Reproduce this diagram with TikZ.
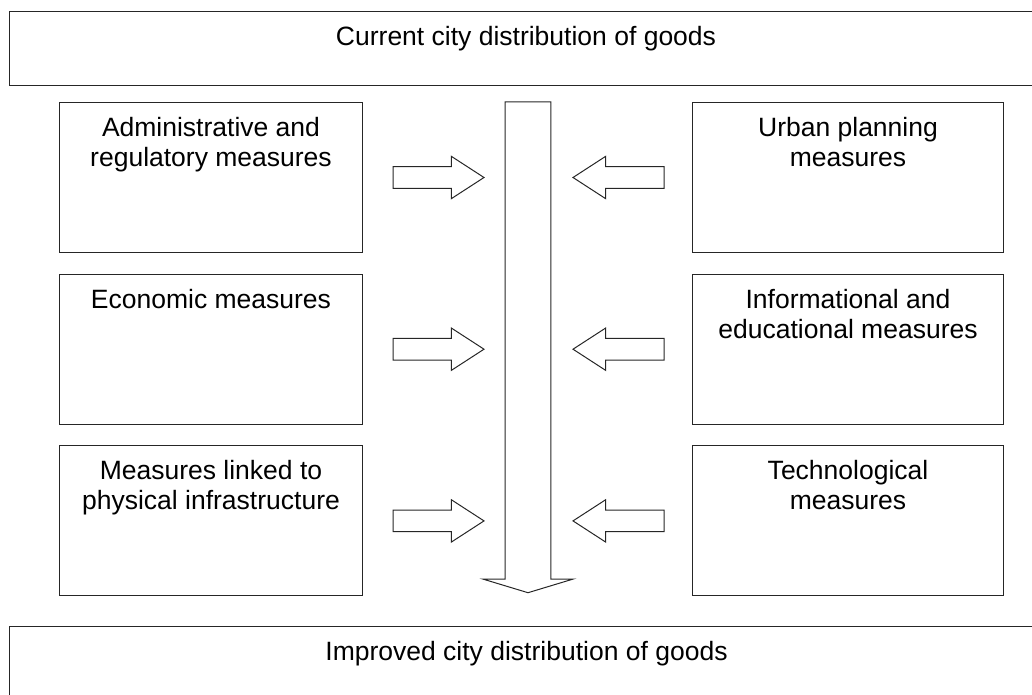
\documentclass[tikz,border=0pt]{standalone}
\usepackage{fontspec}
\setmainfont{Liberation Sans}
\usetikzlibrary{positioning}

\begin{document}
\begin{tikzpicture}[x=1pt,y=-1pt,
    blockarrow/.pic={
      \draw[outline] (0,-10.8) -- (58.3,-10.8) -- (58.3,-21.2) -- (91,0)
        -- (58.3,21.2) -- (58.3,10.8) -- (0,10.8) -- cycle;
    }]
        \tikzstyle{every node}+=[inner sep=0pt]
        \tikzstyle{outline}=[draw=black!85,line width=1pt,line join=miter]
        \tikzstyle{band}=[outline,anchor=north west,minimum width=1040pt,minimum height=74pt]
        \tikzstyle{lbox}=[outline,anchor=north west,minimum width=303pt,minimum height=150pt]
        \tikzstyle{rbox}=[lbox,minimum width=311pt]
        \tikzstyle{caption}=[align=center,font=\fontsize{26.5}{30}\selectfont]

        \clip (0,0) rectangle (1032,695);

        % bands at top and bottom
        \node[band] (current) at (8.5,11.5) {};
        \node[caption,anchor=north] (currenttxt) at (526,26.5) {Current city distribution of goods};
        \node[band] (improved) at (9,626) {};
        \node[caption,anchor=north] (improvedtxt) at (526.5,641) {Improved city distribution of goods};

        % measures, left column
        \node[lbox] (adm) at (59,102) {};
        \node[lbox,below=20.7pt of adm] (eco) {};
        \node[lbox,below=20.7pt of eco] (phys) {};
        \node[caption,below=15pt of adm.north] (admtxt) {Administrative and\\regulatory measures};
        \node[caption,below=15pt of eco.north] (ecotxt) {Economic measures};
        \node[caption,below=15pt of phys.north] (phystxt) {Measures linked to\\physical infrastructure};

        % measures, right column
        \node[rbox] (urb) at (692,102) {};
        \node[rbox,below=20.7pt of urb] (info) {};
        \node[rbox,below=20.7pt of info] (tech) {};
        \node[caption,below=15pt of urb.north] (urbtxt) {Urban planning\\measures};
        \node[caption,below=15pt of info.north] (infotxt) {Informational and\\educational measures};
        \node[caption,below=15pt of tech.north] (techtxt) {Technological\\measures};

        % block arrows into the middle
        \pic at ([xshift=30pt]adm.east) {blockarrow};
        \pic at ([xshift=30pt]eco.east) {blockarrow};
        \pic at ([xshift=30pt]phys.east) {blockarrow};
        \pic[xscale=-1] at ([xshift=-28pt]urb.west) {blockarrow};
        \pic[xscale=-1] at ([xshift=-28pt]info.west) {blockarrow};
        \pic[xscale=-1] at ([xshift=-28pt]tech.west) {blockarrow};

        % long arrow down the middle
        \draw[outline] (505.2,102) -- (505.2,579) -- (482.7,579) -- (528,592.7)
          -- (573.3,579) -- (550.8,579) -- (550.8,102) -- cycle;
\end{tikzpicture}
\end{document}
